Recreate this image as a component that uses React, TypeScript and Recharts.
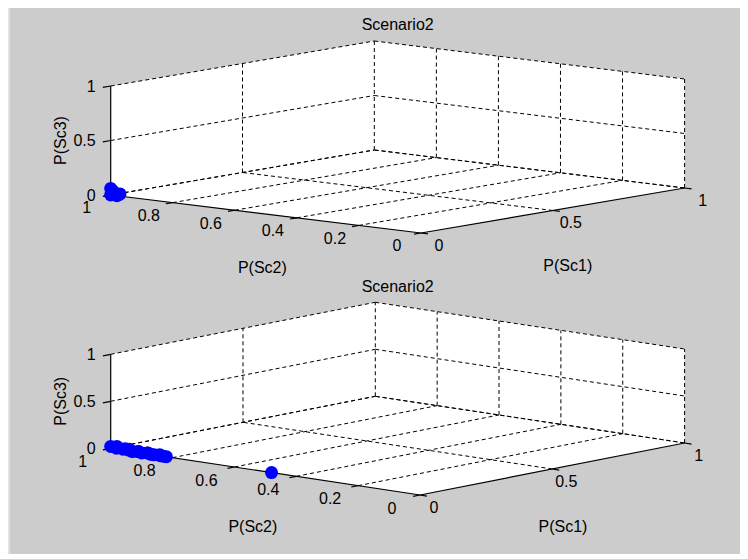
import React from 'react';
import { ComposedChart, XAxis, YAxis, Area, Scatter } from 'recharts';

// ---------------- data ----------------
const titles = ['Scenario2', 'Scenario2'];
const sc1Name = 'P(Sc1)';
const sc2Name = 'P(Sc2)';
const sc3Name = 'P(Sc3)';

const sc1Ticks = [0, 0.5, 1];
const sc1TickLabels = ['0', '0.5', '1'];
const sc2Ticks = [0, 0.2, 0.4, 0.6, 0.8, 1];
const sc2TickLabels = ['0', '0.2', '0.4', '0.6', '0.8', '1'];
const sc3Ticks = [0, 0.5, 1];
const sc3TickLabels = ['0', '0.5', '1'];

// top subplot points (P(Sc1), P(Sc2), P(Sc3))
const topSc1 = [0, 0, 0.01, 0, 0.02, 0];
const topSc2 = [1, 0.98, 1, 0.97, 0.99, 1];
const topSc3 = [0, 0, 0.03, 0.02, 0, 0.06];

// bottom subplot points
const bottomSc1 = [0, 0.01, 0, 0.02, 0, 0.01, 0, 0, 0.01, 0, 0, 0.01, 0, 0, 0, 0.01, 0, 0, 0, 0];
const bottomSc2 = [1, 0.99, 0.98, 0.97, 0.96, 0.95, 0.94, 0.93, 0.92, 0.91, 0.9, 0.89, 0.88, 0.87, 0.86, 0.85, 0.84, 0.83, 0.82, 0.48];
const bottomSc3 = [0.02, 0, 0.03, 0, 0.01, 0, 0.02, 0, 0, 0.01, 0, 0, 0.01, 0, 0, 0, 0, 0, 0, 0];

// ---------------- layout ----------------
const FIG_W = 740;
const FIG_H = 549;
const FONT = 'Arial, "Liberation Sans", Helvetica, sans-serif';

type V2 = [number, number];
interface View {
  origin: V2; // front corner in figure px
  e1: V2; // projected unit vector of P(Sc1) (px, y up)
  e2: V2;
  e3: V2;
  zLab: V2;
  sc2Lab: V2;
  sc1Lab: V2;
  sc3NameOff: V2;
  sc2NameOff: V2;
  sc1NameOff: V2;
  titleDy: number;
}

const topView: View = {
  origin: [413, 228],
  e1: [263.6, 45],
  e2: [-310.3, 38],
  e3: [0, 109],
  zLab: [-15, 5.8],
  sc2Lab: [-24, 18.3],
  sc1Lab: [18, 17.8],
  sc3NameOff: [-45, 0],
  sc2NameOff: [-3.5, 58.8],
  sc1NameOff: [15, 60.3],
  titleDy: -11,
};

const bottomView: View = {
  origin: [412, 490],
  e1: [264.6, 52],
  e2: [-309.3, 46.7],
  e3: [0, 94],
  zLab: [-15, 5.8],
  sc2Lab: [-28, 18.8],
  sc1Lab: [14, 17.8],
  sc3NameOff: [-45, 0],
  sc2NameOff: [-12.5, 60.8],
  sc1NameOff: [10.7, 62.8],
  titleDy: -10,
};

type Pt = { x: number; y: number };

const Empty = () => <g />;

const Dot = (props: any) => {
  const { cx, cy } = props;
  if (cx == null || cy == null) return <g />;
  return <circle cx={cx} cy={cy} r={6.5} fill="#0000ff" stroke="none" />;
};

const TextShape = (props: any) => {
  const { cx, cy, payload } = props;
  if (cx == null || cy == null || !payload) return <g />;
  const x = cx + payload.dx;
  const y = cy + payload.dy;
  return (
    <text
      x={x}
      y={y}
      textAnchor={payload.anchor}
      fontSize={16}
      fontFamily={FONT}
      fill="#000"
      transform={payload.rot ? `rotate(-90 ${x} ${y})` : undefined}
    >
      {payload.text}
    </text>
  );
};

function interp(poly: Pt[], x: number): number {
  for (let i = 0; i < poly.length - 1; i++) {
    const a = poly[i];
    const b = poly[i + 1];
    if (x >= Math.min(a.x, b.x) - 1e-9 && x <= Math.max(a.x, b.x) + 1e-9) {
      if (b.x === a.x) return a.y;
      return a.y + ((x - a.x) / (b.x - a.x)) * (b.y - a.y);
    }
  }
  return poly[0].y;
}

function Subplot({ view, title, s1, s2, s3 }: { view: View; title: string; s1: number[]; s2: number[]; s3: number[] }) {
  const P = (a: number, b: number, c: number): Pt => ({
    x: a * view.e1[0] + b * view.e2[0] + c * view.e3[0],
    y: a * view.e1[1] + b * view.e2[1] + c * view.e3[1],
  });
  const xDomain = [-view.origin[0], FIG_W - view.origin[0]];
  const yDomain = [-(FIG_H - view.origin[1]), view.origin[1]];

  // white box background (hexagon silhouette)
  const L = P(0, 1, 0), F = P(0, 0, 0), R = P(1, 0, 0);
  const Lt = P(0, 1, 1), Bt = P(1, 1, 1), Rt = P(1, 0, 1);
  const bottomEdge = [L, F, R];
  const topEdge = [Lt, Bt, Rt];
  const xs = Array.from(new Set([L.x, Bt.x, F.x, R.x])).sort((a, b) => a - b);
  const areaData = xs.map((x) => ({ x, range: [interp(bottomEdge, x), interp(topEdge, x)] }));

  // grid (dashed)
  const dashed: Pt[][] = [];
  sc3Ticks.forEach((z) => {
    dashed.push([P(0, 1, z), P(1, 1, z)]);
    dashed.push([P(1, 1, z), P(1, 0, z)]);
  });
  sc1Ticks.filter((v) => v > 0).forEach((a) => dashed.push([P(a, 1, 0), P(a, 1, 1)]));
  sc2Ticks.filter((v) => v < 1).forEach((b) => dashed.push([P(1, b, 0), P(1, b, 1)]));
  sc1Ticks.filter((v) => v > 0).forEach((a) => dashed.push([P(a, 0, 0), P(a, 1, 0)]));
  sc2Ticks.filter((v) => v > 0).forEach((b) => dashed.push([P(0, b, 0), P(1, b, 0)]));

  // solid axes + ticks
  const solid: Pt[][] = [
    [P(0, 1, 0), P(0, 1, 1)],
    [P(0, 0, 0), P(0, 1, 0)],
    [P(0, 0, 0), P(1, 0, 0)],
  ];
  const norm = (v: V2, len: number): V2 => {
    const m = Math.hypot(v[0], v[1]);
    return [(v[0] / m) * len, (v[1] / m) * len];
  };
  const dE1 = norm([-view.e1[0], -view.e1[1]], 8);
  const dE2 = norm([-view.e2[0], -view.e2[1]], 7);
  const dE1s = norm([-view.e1[0], -view.e1[1]], 7);
  sc3Ticks.forEach((z) => {
    const p = P(0, 1, z);
    solid.push([p, { x: p.x + dE1[0], y: p.y + dE1[1] }]);
  });
  sc2Ticks.forEach((b) => {
    const p = P(0, b, 0);
    solid.push([p, { x: p.x + dE1s[0], y: p.y + dE1s[1] }]);
  });
  sc1Ticks.forEach((a) => {
    const p = P(a, 0, 0);
    solid.push([p, { x: p.x + dE2[0], y: p.y + dE2[1] }]);
  });

  const points = s1.map((v, i) => P(v, s2[i], s3[i]));

  const labels: any[] = [];
  sc3Ticks.forEach((z, i) => {
    const p = P(0, 1, z);
    labels.push({ ...p, text: sc3TickLabels[i], dx: view.zLab[0], dy: view.zLab[1], anchor: 'end' });
  });
  sc2Ticks.forEach((b, i) => {
    const p = P(0, b, 0);
    labels.push({ ...p, text: sc2TickLabels[i], dx: view.sc2Lab[0], dy: view.sc2Lab[1], anchor: 'middle' });
  });
  sc1Ticks.forEach((a, i) => {
    const p = P(a, 0, 0);
    labels.push({ ...p, text: sc1TickLabels[i], dx: view.sc1Lab[0], dy: view.sc1Lab[1], anchor: 'middle' });
  });
  labels.push({ ...P(0, 1, 0.5), text: sc3Name, dx: view.sc3NameOff[0], dy: view.sc3NameOff[1], anchor: 'middle', rot: true });
  labels.push({ ...P(0, 0.5, 0), text: sc2Name, dx: view.sc2NameOff[0], dy: view.sc2NameOff[1], anchor: 'middle' });
  labels.push({ ...P(0.5, 0, 0), text: sc1Name, dx: view.sc1NameOff[0], dy: view.sc1NameOff[1], anchor: 'middle' });
  labels.push({ x: (L.x + R.x) / 2, y: Bt.y, text: title, dx: 0, dy: view.titleDy, anchor: 'middle' });

  return (
    <div style={{ position: 'absolute', left: 0, top: 0 }}>
      <ComposedChart width={FIG_W} height={FIG_H} data={areaData} margin={{ top: 0, right: 0, bottom: 0, left: 0 }}>
        <XAxis type="number" dataKey="x" domain={xDomain} hide allowDataOverflow />
        <YAxis type="number" dataKey="y" domain={yDomain} hide allowDataOverflow />
        <Area
          type="linear"
          dataKey="range"
          fill="#ffffff"
          fillOpacity={1}
          stroke="none"
          dot={false}
          activeDot={false}
          isAnimationActive={false}
        />
        {dashed.map((seg, i) => (
          <Scatter
            key={'d' + i}
            data={seg}
            fill="#000"
            line={{ stroke: '#000', strokeWidth: 1, strokeDasharray: '4 3' }}
            shape={Empty}
            isAnimationActive={false}
          />
        ))}
        {solid.map((seg, i) => (
          <Scatter
            key={'s' + i}
            data={seg}
            fill="#000"
            line={{ stroke: '#000', strokeWidth: 1.2 }}
            shape={Empty}
            isAnimationActive={false}
          />
        ))}
        <Scatter data={points} fill="#0000ff" shape={Dot} isAnimationActive={false} />
        <Scatter data={labels} fill="#000" shape={TextShape} isAnimationActive={false} />
      </ComposedChart>
    </div>
  );
}

export default function App() {
  return (
    <div
      style={{
        position: 'relative',
        width: FIG_W,
        height: FIG_H,
        marginTop: -3,
        background: '#cccccc',
        overflow: 'visible',
      }}
    >
      <div style={{ position: 'absolute', left: 0, top: 0, width: 2, height: FIG_H, background: '#e4e2dc' }} />
      <div style={{ position: 'absolute', left: 0, top: FIG_H, width: FIG_W, height: 1, background: '#e8e6e0' }} />
      <div style={{ position: 'absolute', left: 0, top: FIG_H + 1, width: FIG_W, height: 2, background: '#c8c4b8' }} />
      <Subplot view={topView} title={titles[0]} s1={topSc1} s2={topSc2} s3={topSc3} />
      <Subplot view={bottomView} title={titles[1]} s1={bottomSc1} s2={bottomSc2} s3={bottomSc3} />
    </div>
  );
}
